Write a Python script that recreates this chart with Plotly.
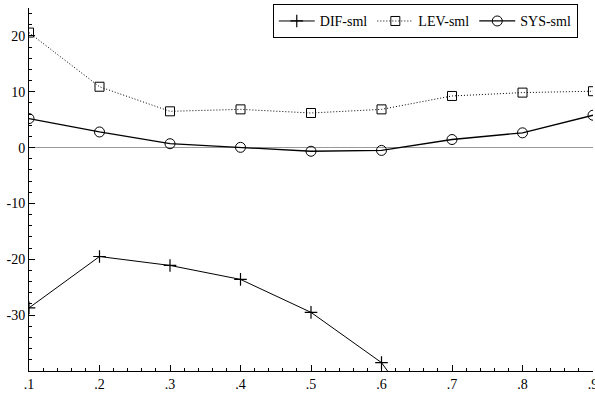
import plotly.graph_objects as go

x_vals = [0.1, 0.2, 0.3, 0.4, 0.5, 0.6, 0.7, 0.8, 0.9]
x_labels = [".1", ".2", ".3", ".4", ".5", ".6", ".7", ".8", ".9"]
dif_x = [0.1, 0.2, 0.3, 0.4, 0.5, 0.6, 0.7]
dif_sml = [-28.7, -19.5, -21.1, -23.6, -29.5, -38.5, -56.0]
lev_sml = [20.6, 10.9, 6.5, 6.85, 6.2, 6.85, 9.25, 9.85, 10.1]
sys_sml = [5.2, 2.8, 0.7, 0.05, -0.65, -0.5, 1.45, 2.65, 5.8]
y_ticks = [-30, -20, -10, 0, 10, 20]
y_labels = ["-30", "-20", "-10", "0", "10", "20"]

font = dict(family="Liberation Serif, Times New Roman, serif", size=14, color="black")

fig = go.Figure()
fig.add_trace(go.Scatter(x=dif_x, y=dif_sml, name="DIF-sml", mode="lines+markers",
                         line=dict(color="black", width=1),
                         marker=dict(symbol="cross-thin", size=9, line=dict(color="black", width=1.2))))
fig.add_trace(go.Scatter(x=x_vals, y=lev_sml, name="LEV-sml", mode="lines+markers",
                         line=dict(color="black", width=1, dash="1px,2px"),
                         marker=dict(symbol="square-open", size=9, color="black", line=dict(width=1))))
fig.add_trace(go.Scatter(x=x_vals, y=sys_sml, name="SYS-sml", mode="lines+markers",
                         line=dict(color="black", width=1.3),
                         marker=dict(symbol="circle-open", size=10, color="black", line=dict(width=1))))

fig.update_layout(
    width=595, height=399,
    margin=dict(l=29, r=2, t=8, b=28, autoexpand=False),
    paper_bgcolor="white", plot_bgcolor="white",
    font=font,
    showlegend=True,
    legend=dict(orientation="h", x=0.973, xanchor="right", y=1.01, yanchor="top",
                bordercolor="black", borderwidth=1, bgcolor="white",
                font=font, itemwidth=36, tracegroupgap=0),
)
fig.update_xaxes(range=[0.1, 0.9], tickvals=x_vals, ticktext=x_labels,
                 showgrid=False, zeroline=False, showline=True, linecolor="black", linewidth=1,
                 ticks="inside", ticklen=6, tickcolor="black", automargin=False,
                 ticklabeloverflow="allow",
                 minor=dict(ticks="inside", ticklen=3, tickcolor="black", dtick=0.02, showgrid=False),
                 tickfont=font)
fig.update_yaxes(range=[-40, 25], tickvals=y_ticks, ticktext=y_labels,
                 showgrid=False, zeroline=True, zerolinecolor="#999999", zerolinewidth=1,
                 showline=True, linecolor="black", linewidth=1,
                 ticks="inside", ticklen=6, tickcolor="black", automargin=False,
                 ticklabeloverflow="allow",
                 minor=dict(ticks="inside", ticklen=3, tickcolor="black", dtick=2, showgrid=False),
                 tickfont=font)

fig.write_html("out.html", config={"displayModeBar": False},
               post_script="document.body.style.margin='0';document.body.style.overflow='hidden';")
